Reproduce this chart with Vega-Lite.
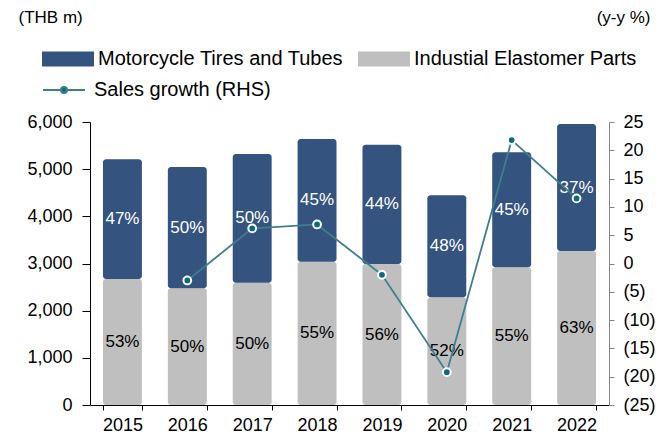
{
  "$schema": "https://vega.github.io/schema/vega-lite/v6.json",
  "autosize": {"type": "none"},
  "width": 519,
  "height": 283,
  "padding": {"left": 90, "top": 122, "right": 50, "bottom": 36},
  "background": "white",
  "config": {
    "font": "Liberation Sans",
    "view": {"stroke": null},
    "axis": {"grid": false, "labelFont": "Liberation Sans", "titleFont": "Liberation Sans", "labelColor": "black", "titleColor": "black", "titleFontWeight": "normal", "labelOverlap": false},
    "legend": {"labelFont": "Liberation Sans", "labelColor": "black", "labelLimit": 400}
  },
  "datasets": {
    "bars": [
      {"year": "2015", "segment": "Industial Elastomer Parts", "ord": 1, "value": 2671, "pct": "53%"},
      {"year": "2015", "segment": "Motorcycle Tires and Tubes", "ord": 2, "value": 2538, "pct": "47%"},
      {"year": "2016", "segment": "Industial Elastomer Parts", "ord": 1, "value": 2474, "pct": "50%"},
      {"year": "2016", "segment": "Motorcycle Tires and Tubes", "ord": 2, "value": 2572, "pct": "50%"},
      {"year": "2017", "segment": "Industial Elastomer Parts", "ord": 1, "value": 2593, "pct": "50%"},
      {"year": "2017", "segment": "Motorcycle Tires and Tubes", "ord": 2, "value": 2728, "pct": "50%"},
      {"year": "2018", "segment": "Industial Elastomer Parts", "ord": 1, "value": 3038, "pct": "55%"},
      {"year": "2018", "segment": "Motorcycle Tires and Tubes", "ord": 2, "value": 2601, "pct": "45%"},
      {"year": "2019", "segment": "Industial Elastomer Parts", "ord": 1, "value": 2989, "pct": "56%"},
      {"year": "2019", "segment": "Motorcycle Tires and Tubes", "ord": 2, "value": 2529, "pct": "44%"},
      {"year": "2020", "segment": "Industial Elastomer Parts", "ord": 1, "value": 2283, "pct": "52%"},
      {"year": "2020", "segment": "Motorcycle Tires and Tubes", "ord": 2, "value": 2163, "pct": "48%"},
      {"year": "2021", "segment": "Industial Elastomer Parts", "ord": 1, "value": 2919, "pct": "55%"},
      {"year": "2021", "segment": "Motorcycle Tires and Tubes", "ord": 2, "value": 2438, "pct": "45%"},
      {"year": "2022", "segment": "Industial Elastomer Parts", "ord": 1, "value": 3265, "pct": "63%"},
      {"year": "2022", "segment": "Motorcycle Tires and Tubes", "ord": 2, "value": 2692, "pct": "37%"}
    ],
    "growth": [
      {"year": "2016", "series": "Sales growth (RHS)", "growth": -3.0},
      {"year": "2017", "series": "Sales growth (RHS)", "growth": 6.2},
      {"year": "2018", "series": "Sales growth (RHS)", "growth": 6.9},
      {"year": "2019", "series": "Sales growth (RHS)", "growth": -2.0},
      {"year": "2020", "series": "Sales growth (RHS)", "growth": -19.2},
      {"year": "2021", "series": "Sales growth (RHS)", "growth": 21.8},
      {"year": "2022", "series": "Sales growth (RHS)", "growth": 11.5}
    ]
  },
  "encoding": {
    "x": {
      "field": "year", "type": "ordinal", "title": null,
      "scale": {"domain": ["2015","2016","2017","2018","2019","2020","2021","2022"], "paddingInner": 0.4, "paddingOuter": 0.2},
      "axis": {"labelAngle": 0, "labelFontSize": 18, "domainColor": "black", "tickColor": "black", "tickBand": "extent", "tickSize": 5, "labelPadding": 6, "domainWidth": 1}
    }
  },
  "layer": [
    {
      "data": {"name": "bars"},
      "transform": [
        {"stack": "value", "groupby": ["year"], "sort": [{"field": "ord"}], "as": ["v0", "v1"]},
        {"calculate": "(datum.v0 + datum.v1) / 2", "as": "mid"}
      ],
      "layer": [
        {
          "mark": {"type": "bar", "cornerRadius": 3},
          "encoding": {
            "y": {"field": "v0", "type": "quantitative", "title": "(THB m)",
              "scale": {"domain": [0, 6000]},
              "axis": {"values": [0,1000,2000,3000,4000,5000,6000], "format": ",d", "labelFontSize": 18, "domainColor": "black", "tickColor": "black", "tickSize": 8, "labelPadding": 10,
                "titleAngle": 0, "titleAlign": "left", "titleBaseline": "middle", "titleX": -72, "titleY": -105, "titleFontSize": 17}},
            "y2": {"field": "v1"},
            "fill": {"field": "segment", "type": "nominal",
              "scale": {"domain": ["Motorcycle Tires and Tubes", "Industial Elastomer Parts"], "range": ["#34537f", "#bfbfbf"]},
              "legend": {"orient": "none", "legendX": -48, "legendY": -89, "direction": "horizontal", "title": null,
                "symbolType": "M-1,-0.29L1,-0.29L1,0.29L-1,0.29Z", "symbolSize": 2704, "symbolStrokeWidth": 0,
                "labelFontSize": 20, "columnPadding": 14, "labelOffset": 4, "padding": 0}}
          }
        },
        {
          "mark": {"type": "text", "fontSize": 17, "baseline": "middle"},
          "encoding": {
            "y": {"field": "mid", "type": "quantitative"},
            "text": {"field": "pct"},
            "color": {"condition": {"test": "datum.ord === 2", "value": "white"}, "value": "black"}
          }
        }
      ]
    },
    {
      "data": {"name": "growth"},
      "encoding": {
        "y": {"field": "growth", "type": "quantitative", "title": "(y-y %)",
          "scale": {"domain": [-25, 25]},
          "axis": {"orient": "right", "values": [-25,-20,-15,-10,-5,0,5,10,15,20,25], "labelOverlap": false, "labelFlush": false,
            "labelExpr": "datum.value < 0 ? '(' + abs(datum.value) + ')' : '' + datum.value",
            "labelFontSize": 18, "domainColor": "#868686", "tickColor": "#868686", "tickSize": 5, "labelPadding": 9,
            "titleAngle": 0, "titleAlign": "right", "titleBaseline": "middle", "titleX": 41, "titleY": -105, "titleFontSize": 17}}
      },
      "layer": [
        {
          "mark": {"type": "line", "strokeWidth": 1.8},
          "encoding": {
            "stroke": {"field": "series", "type": "nominal", "scale": {"range": ["#3f7f8b"]},
              "legend": {"orient": "none", "legendX": -48, "legendY": -54, "title": null,
                "symbolType": "M-1,0L-0.15,0M0.15,0L1,0M-0.14,0A0.14,0.14 0 1,0 0.14,0A0.14,0.14 0 1,0 -0.14,0Z",
                "symbolSize": 1764, "symbolStrokeWidth": 2, "symbolFillColor": "#0b6a80",
                "labelFontSize": 20, "labelOffset": 8, "padding": 0}}
          }
        },
        {
          "mark": {"type": "point", "filled": true, "size": 60, "fill": "#0b6a80", "stroke": "white", "strokeWidth": 2, "opacity": 1},
          "encoding": {}
        }
      ]
    }
  ],
  "resolve": {"scale": {"y": "independent"}}
}
